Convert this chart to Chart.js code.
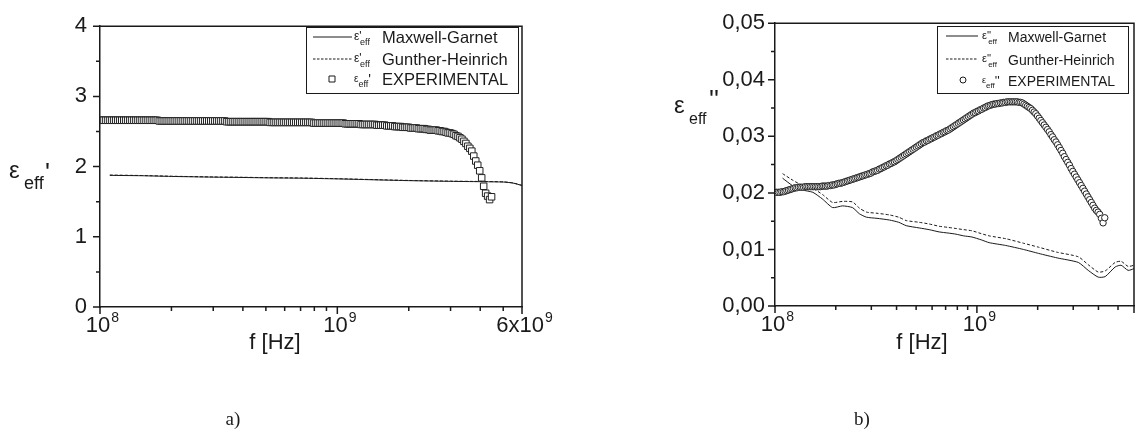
<!DOCTYPE html>
<html>
<head>
<meta charset="utf-8">
<script src="https://cdn.jsdelivr.net/npm/chart.js@4/dist/chart.umd.min.js"></script>
<style>
  html, body { margin: 0; padding: 0; background: #fff; }
  #wrap { position: relative; width: 1139px; height: 434px; overflow: hidden; }
  #c1 { position: absolute; left: 0; top: 0; }
  #c2 { position: absolute; left: 560px; top: 0; }
</style>
</head>
<body>
<div id="wrap">
  <canvas id="c1" width="560" height="434"></canvas>
  <canvas id="c2" width="579" height="434"></canvas>
</div>
<script>
// measured frequencies (MHz), shared by both experimental curves
const freqExp = [
  100, 101.9, 103.9, 105.9, 108.0, 110.1, 112.2, 114.4, 116.6, 118.9,
  121.2, 123.5, 125.9, 128.3, 130.8, 133.4, 135.9, 138.6, 141.3, 144.0,
  146.8, 149.6, 152.5, 155.5, 158.5, 161.6, 164.7, 167.9, 171.1, 174.4,
  177.8, 181.3, 184.8, 188.4, 192.0, 195.7, 199.5, 203.4, 207.3, 211.3,
  215.4, 219.6, 223.9, 228.2, 232.6, 237.1, 241.7, 246.4, 251.2, 256.1,
  261.0, 266.1, 271.2, 276.5, 281.8, 287.3, 292.9, 298.5, 304.3, 310.2,
  316.2, 322.3, 328.6, 335.0, 341.5, 348.1, 354.8, 361.7, 368.7, 375.8,
  383.1, 390.5, 398.1, 405.8, 413.7, 421.7, 429.9, 438.2, 446.7, 455.3,
  464.2, 473.2, 482.3, 491.7, 501.2, 510.9, 520.8, 530.9, 541.2, 551.6,
  562.3, 573.2, 584.3, 595.7, 607.2, 619.0, 631.0, 643.2, 655.6, 668.3,
  681.3, 694.5, 707.9, 721.7, 735.6, 749.9, 764.4, 779.2, 794.3, 809.7,
  825.4, 841.4, 857.7, 874.3, 891.3, 908.5, 926.1, 944.1, 962.4, 981.0,
  1000, 1019, 1039, 1059, 1080, 1101, 1122, 1144, 1166, 1189,
  1212, 1235, 1259, 1283, 1308, 1334, 1359, 1386, 1413, 1440,
  1468, 1496, 1525, 1555, 1585, 1616, 1647, 1679, 1711, 1745,
  1778, 1813, 1848, 1884, 1920, 1957, 1995, 2034, 2073, 2113,
  2154, 2196, 2239, 2282, 2326, 2371, 2417, 2464, 2512, 2561,
  2610, 2661, 2712, 2765, 2818, 2873, 2929, 2985, 3043, 3102,
  3162, 3224, 3286, 3350, 3415, 3481, 3548, 3617, 3687, 3758,
  3831, 3905, 3981, 4058, 4137, 4217, 4299, 4382, 4467
];
// eps' measured (panel a)
const epsRealExp = [
  2.66, 2.66, 2.66, 2.66, 2.66, 2.66, 2.66, 2.66, 2.66, 2.66,
  2.66, 2.66, 2.66, 2.66, 2.66, 2.66, 2.66, 2.66, 2.66, 2.66,
  2.66, 2.66, 2.66, 2.66, 2.66, 2.66, 2.66, 2.66, 2.66, 2.66,
  2.65, 2.65, 2.65, 2.65, 2.65, 2.65, 2.65, 2.65, 2.65, 2.65,
  2.65, 2.65, 2.65, 2.65, 2.65, 2.65, 2.65, 2.65, 2.65, 2.65,
  2.65, 2.65, 2.65, 2.65, 2.65, 2.65, 2.65, 2.65, 2.65, 2.65,
  2.65, 2.65, 2.65, 2.65, 2.64, 2.64, 2.64, 2.64, 2.64, 2.64,
  2.64, 2.64, 2.64, 2.64, 2.64, 2.64, 2.64, 2.64, 2.64, 2.64,
  2.64, 2.64, 2.64, 2.64, 2.64, 2.64, 2.63, 2.63, 2.63, 2.63,
  2.63, 2.63, 2.63, 2.63, 2.63, 2.63, 2.63, 2.63, 2.63, 2.63,
  2.63, 2.63, 2.63, 2.63, 2.63, 2.63, 2.63, 2.63, 2.62, 2.62,
  2.62, 2.62, 2.62, 2.62, 2.62, 2.62, 2.62, 2.62, 2.62, 2.62,
  2.62, 2.62, 2.62, 2.62, 2.61, 2.61, 2.61, 2.61, 2.61, 2.61,
  2.61, 2.61, 2.60, 2.60, 2.60, 2.60, 2.60, 2.60, 2.60, 2.60,
  2.59, 2.59, 2.59, 2.59, 2.59, 2.58, 2.58, 2.58, 2.58, 2.57,
  2.57, 2.57, 2.57, 2.56, 2.56, 2.56, 2.56, 2.55, 2.55, 2.55,
  2.55, 2.54, 2.54, 2.54, 2.54, 2.53, 2.53, 2.52, 2.52, 2.52,
  2.52, 2.51, 2.51, 2.50, 2.50, 2.49, 2.48, 2.48, 2.47, 2.46,
  2.44, 2.43, 2.41, 2.39, 2.36, 2.33, 2.29, 2.26, 2.22, 2.15,
  2.08, 2.02, 1.94, 1.84, 1.72, 1.62, 1.58, 1.53, 1.57
];
// eps'' measured (panel b)
const epsImagExp = [
  .0201, .0201, .0201, .0201, .0202, .0202, .0203, .0204, .0205, .0206,
  .0207, .0208, .0209, .0209, .0210, .0210, .0210, .0210, .0211, .0211,
  .0211, .0211, .0211, .0211, .0211, .0211, .0211, .0211, .0212, .0212,
  .0212, .0212, .0213, .0213, .0214, .0214, .0215, .0216, .0217, .0217,
  .0218, .0219, .0220, .0221, .0222, .0223, .0224, .0225, .0226, .0227,
  .0228, .0229, .0230, .0231, .0232, .0233, .0234, .0235, .0237, .0238,
  .0239, .0240, .0242, .0243, .0245, .0246, .0248, .0249, .0251, .0252,
  .0254, .0255, .0257, .0259, .0261, .0263, .0265, .0267, .0269, .0271,
  .0273, .0275, .0277, .0279, .0281, .0283, .0285, .0287, .0289, .0290,
  .0292, .0293, .0295, .0296, .0298, .0299, .0301, .0302, .0304, .0305,
  .0307, .0308, .0310, .0311, .0313, .0315, .0317, .0319, .0321, .0323,
  .0325, .0327, .0329, .0331, .0333, .0335, .0337, .0339, .0341, .0342,
  .0344, .0345, .0347, .0348, .0350, .0351, .0353, .0354, .0355, .0356,
  .0357, .0357, .0358, .0358, .0359, .0359, .0360, .0360, .0361, .0361,
  .0361, .0361, .0361, .0361, .0361, .0360, .0360, .0359, .0357, .0355,
  .0353, .0351, .0349, .0346, .0343, .0340, .0336, .0332, .0328, .0324,
  .0320, .0316, .0312, .0308, .0303, .0299, .0294, .0290, .0285, .0280,
  .0275, .0270, .0264, .0259, .0254, .0249, .0243, .0238, .0233, .0228,
  .0223, .0218, .0213, .0208, .0203, .0198, .0193, .0188, .0183, .0178,
  .0173, .0169, .0166, .0162, .0155, .0147, .0156
];

// model curves, panel a
const freqModelA = [110, 150, 200, 300, 400, 500, 700, 1000, 1500, 2000, 3000, 4000, 5000, 5500, 6000];
const epsRealMG = [1.875, 1.87, 1.86, 1.85, 1.845, 1.84, 1.835, 1.825, 1.81, 1.80, 1.79, 1.785, 1.78, 1.765, 1.73];
const epsRealGH = [1.88, 1.873, 1.863, 1.853, 1.848, 1.843, 1.838, 1.828, 1.813, 1.803, 1.793, 1.788, 1.783, 1.768, 1.733];

// model curves, panel b
const freqModelB = [109, 123, 137, 154, 172, 193, 216, 242, 262, 284, 320, 369, 410, 447, 518, 580, 650, 720, 788, 860,
  945, 1050, 1150, 1390, 1700, 2020, 2500, 3180, 3560, 3990, 4320, 4840, 5180, 5610, 6000];
const epsImagMG = [0.0226, 0.0212, 0.0205, 0.0201, 0.0189, 0.0174, 0.0177, 0.0174, 0.0163, 0.0157, 0.0155, 0.0152, 0.0148,
  0.0142, 0.0138, 0.0135, 0.0131, 0.0129, 0.0127, 0.0124, 0.0122, 0.0117, 0.0112, 0.0107, 0.0100, 0.0093, 0.0085,
  0.0077, 0.0063, 0.0051, 0.0052, 0.0069, 0.0072, 0.0063, 0.0066];
const epsImagGH = [0.0234, 0.0222, 0.0213, 0.0208, 0.0197, 0.0183, 0.0185, 0.0184, 0.0173, 0.0166, 0.0164, 0.0161, 0.0157,
  0.0151, 0.0148, 0.0145, 0.0141, 0.0139, 0.0137, 0.0135, 0.0133, 0.0128, 0.0124, 0.0119, 0.0111, 0.0104, 0.0095,
  0.0087, 0.0073, 0.0060, 0.0062, 0.0077, 0.0079, 0.0070, 0.0072];

// ticks
const xMajor = [1e8, 1e9, 6e9];
const xMinor = [2e8, 3e8, 4e8, 5e8, 6e8, 7e8, 8e8, 9e8, 2e9, 3e9, 4e9, 5e9];
const xLabelsA = ['10^8', '10^9', '6x10^9'];
const xLabelsB = ['10^8', '10^9', ''];
const yTicksA = [0, 1, 2, 3, 4];
const yLabelsA = ['0', '1', '2', '3', '4'];
const yTicksB = [0, 0.01, 0.02, 0.03, 0.04, 0.05];
const yLabelsB = ['0,00', '0,01', '0,02', '0,03', '0,04', '0,05'];
const legendLabels = ['Maxwell-Garnet', 'Gunther-Heinrich', 'EXPERIMENTAL'];

const ink = '#1a1a1a';
const sans = '"Liberation Sans", Arial, sans-serif';
Chart.defaults.font.family = sans;
Chart.defaults.color = ink;

const pts = (f, v) => v.map((y, i) => ({ x: f[i] * 1e6, y }));

function txt(ctx, s, x, y, size, align = 'left', font = sans) {
  ctx.font = size + 'px ' + font;
  ctx.textAlign = align;
  ctx.fillText(s, x, y);
  return ctx.measureText(s).width;
}

// frame, ticks, tick labels with superscripts, titles, legend, caption
function makeDecor(o) {
  return {
    id: 'decor',
    afterDraw(chart) {
      const { ctx, chartArea: a, scales: { x, y } } = chart;
      ctx.save();
      ctx.strokeStyle = ink;
      ctx.fillStyle = ink;
      ctx.lineWidth = 1.5;
      ctx.textBaseline = 'alphabetic';

      ctx.beginPath();
      ctx.moveTo(a.left, a.top);
      ctx.lineTo(a.right, a.top);
      ctx.lineTo(a.right, a.bottom);
      xMajor.forEach(v => { const p = x.getPixelForValue(v); ctx.moveTo(p, a.bottom); ctx.lineTo(p, a.bottom + 7); });
      xMinor.forEach(v => { const p = x.getPixelForValue(v); ctx.moveTo(p, a.bottom); ctx.lineTo(p, a.bottom + 4); });
      o.yTicks.forEach((v, i) => {
        const p = y.getPixelForValue(v);
        ctx.moveTo(a.left, p); ctx.lineTo(a.left - 7, p);
        if (i > 0) {
          const m = y.getPixelForValue((v + o.yTicks[i - 1]) / 2);
          ctx.moveTo(a.left, m); ctx.lineTo(a.left - 4, m);
        }
      });
      ctx.stroke();

      // x tick labels: base + superscript
      o.xLabels.forEach((lab, i) => {
        if (!lab) return;
        const [base, sup] = lab.split('^');
        ctx.font = '22px ' + sans;
        const wb = ctx.measureText(base).width;
        ctx.font = '14px ' + sans;
        const ws = ctx.measureText(sup).width;
        const p = x.getPixelForValue(xMajor[i]);
        const x0 = p - (wb + ws) / 2 + 2;
        txt(ctx, base, x0, a.bottom + 25, 22);
        txt(ctx, sup, x0 + wb + 1, a.bottom + 15, 14);
      });

      // x title
      ctx.textBaseline = 'middle';
      txt(ctx, 'f [Hz]', o.xTitle[0], o.xTitle[1], 22, 'center');
      ctx.textBaseline = 'alphabetic';

      // y title: epsilon, subscript eff, prime(s)
      const t = o.yTitle;
      txt(ctx, 'ε', t.x, t.base, 24);
      txt(ctx, 'eff', t.x + 15, t.base + 11, t.sub);
      txt(ctx, t.prime, t.px, t.pbase, 26);

      // legend
      const [bl, bt, br, bb] = o.box;
      ctx.lineWidth = 1;
      ctx.fillStyle = '#fff';
      ctx.fillRect(bl, bt, br - bl, bb - bt);
      ctx.strokeRect(bl + 0.5, bt + 0.5, br - bl, bb - bt);
      ctx.fillStyle = ink;
      const L = o.leg;
      L.rows.forEach((rb, i) => {
        const by = bt + rb;
        const ly = by - 6;
        if (i < 2) {
          ctx.beginPath();
          ctx.setLineDash(i === 1 ? [2.5, 1.5] : []);
          ctx.moveTo(bl + L.line[0], ly);
          ctx.lineTo(bl + L.line[1], ly);
          ctx.stroke();
          ctx.setLineDash([]);
          const w = txt(ctx, 'ε', bl + L.symX, by - 3, L.sym);
          const pw = txt(ctx, o.prime, bl + L.symX + w, by - 3, L.sym);
          txt(ctx, 'eff', bl + L.symX + w + pw * 0.3, by + 2, L.subSize);
        } else {
          ctx.beginPath();
          if (o.marker === 'rect') {
            ctx.rect(bl + L.mark - 3, ly - 3, 6, 6);
          } else {
            ctx.arc(bl + L.mark, ly, 3, 0, Math.PI * 2);
          }
          ctx.stroke();
          const w = txt(ctx, 'ε', bl + L.symX, by - 3, L.sym - 2);
          const ws = txt(ctx, 'eff', bl + L.symX + w, by + 2, L.subSize);
          txt(ctx, o.prime, bl + L.symX + w + ws, by - 1, L.sym + 2);
        }
        txt(ctx, legendLabels[i], bl + L.labX, by, L.size);
      });

      // caption
      ctx.textBaseline = 'middle';
      txt(ctx, o.caption[0], o.caption[1], o.caption[2], 19, 'center', '"Liberation Serif", "Times New Roman", serif');
      ctx.restore();
    }
  };
}

function makeChart(id, datasets, yMax, yTicks, yLabels, yWidth, padRight, xHeight, decor) {
  return new Chart(document.getElementById(id), {
    type: 'scatter',
    data: { datasets },
    options: {
      responsive: false,
      animation: false,
      devicePixelRatio: 1,
      events: [],
      layout: { padding: { left: 0, right: padRight, top: 20, bottom: 0 } },
      plugins: { legend: { display: false }, tooltip: { enabled: false } },
      scales: {
        x: {
          type: 'logarithmic',
          min: 1e8,
          max: 6e9,
          grid: { display: false, drawTicks: false },
          border: { display: true, color: ink, width: 1.5 },
          ticks: { display: false },
          afterFit: s => { s.height = xHeight; }
        },
        y: {
          min: 0,
          max: yMax,
          grid: { display: false, drawTicks: false },
          border: { display: true, color: ink, width: 1.5 },
          afterBuildTicks: s => { s.ticks = yTicks.map(v => ({ value: v })); },
          ticks: {
            padding: id === 'c1' ? 13 : 10,
            font: { size: 22 },
            color: ink,
            callback: (v, i) => yLabels[i]
          },
          afterFit: s => { s.width = yWidth; }
        }
      }
    },
    plugins: [decor]
  });
}

const lineStyle = { showLine: true, borderColor: ink, borderWidth: 1, pointRadius: 0, tension: 0.2 };

makeChart('c1', [
  { ...lineStyle, label: 'MG', data: pts(freqModelA, epsRealMG), order: 3 },
  { ...lineStyle, label: 'GH', data: pts(freqModelA, epsRealGH), borderDash: [3, 2], order: 2 },
  {
    label: 'EXP', data: pts(freqExp, epsRealExp), showLine: false, order: 1,
    pointStyle: 'rect', pointRadius: 4.6, pointBorderWidth: 1,
    pointBorderColor: '#222', pointBackgroundColor: '#fff'
  }
], 4, yTicksA, yLabelsA, 100, 38, 127, makeDecor({
  yTicks: yTicksA,
  xLabels: xLabelsA,
  xTitle: [275, 343],
  yTitle: { x: 9, base: 178, sub: 18, prime: "'", px: 45, pbase: 181 },
  box: [306, 27, 518, 93],
  prime: "'",
  marker: 'rect',
  leg: { rows: [16, 38, 58], line: [7, 46], mark: 26, symX: 48, labX: 76, sym: 12, subSize: 9, size: 16.5 },
  caption: ['a)', 233, 420]
}));

makeChart('c2', [
  { ...lineStyle, label: 'MG', data: pts(freqModelB, epsImagMG), order: 3 },
  { ...lineStyle, label: 'GH', data: pts(freqModelB, epsImagGH), borderDash: [3, 2], order: 2 },
  {
    label: 'EXP', data: pts(freqExp, epsImagExp), showLine: false, order: 1,
    pointStyle: 'circle', pointRadius: 3.2, pointBorderWidth: 1,
    pointBorderColor: '#222', pointBackgroundColor: '#fff'
  }
], 0.05, yTicksB, yLabelsB, 215, 2, 128, makeDecor({
  yTicks: yTicksB,
  xLabels: xLabelsB,
  xTitle: [362, 343],
  yTitle: { x: 114, base: 113, sub: 16, prime: "''", px: 149, pbase: 108 },
  box: [377, 26, 568, 93],
  prime: "''",
  marker: 'circle',
  leg: { rows: [16, 39, 60], line: [9, 41], mark: 26, symX: 45, labX: 71, sym: 11, subSize: 8, size: 14 },
  caption: ['b)', 302, 420]
}));
</script>
</body>
</html>
